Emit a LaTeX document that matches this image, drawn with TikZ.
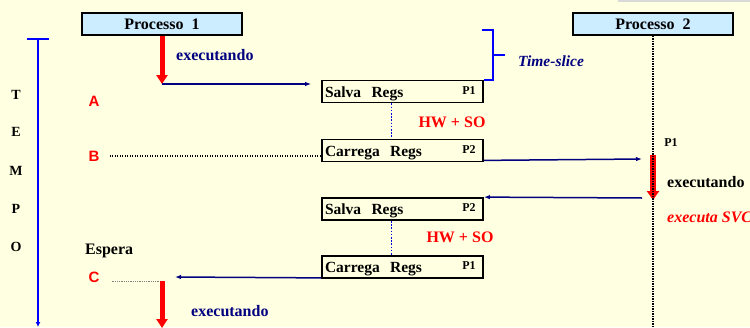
\documentclass[tikz,border=0pt]{standalone}
\usepackage{fontspec}
\setmainfont{Liberation Serif}
\newfontfamily\sansbold{Liberation Sans}
\usetikzlibrary{arrows.meta}
\definecolor{paper}{HTML}{FFFFE1}
\definecolor{procblue}{HTML}{CCECFF}
\definecolor{navy}{HTML}{000080}
\definecolor{stripgray}{HTML}{D9D9D9}

\begin{document}
\begin{tikzpicture}[x=1pt,y=-1pt,proc/.style={draw,line width=1.8pt,fill=procblue,minimum width=160pt,minimum height=22pt,inner sep=0pt,font=\fontsize{16}{18}\selectfont\bfseries},regbox/.style={draw,line width=1.8pt,minimum width=161pt,minimum height=22pt,text width=155pt,text height=11pt,text depth=0pt,align=left,inner sep=2pt,font=\fontsize{15.5}{17}\selectfont\bfseries},tag/.style={font=\fontsize{12}{13}\selectfont\bfseries,inner sep=0pt},tempo/.style={font=\fontsize{14}{16}\selectfont\bfseries,inner sep=0pt},point/.style={red,font=\fontsize{15}{16}\sansbold\bfseries,inner sep=0pt},note/.style={font=\fontsize{16}{18}\selectfont\bfseries,inner sep=0pt,anchor=west},alert/.style={red,font=\fontsize{16}{18}\selectfont\bfseries,inner sep=0pt},flow/.style={navy,line width=1.5pt,-{Latex[length=6pt,width=4.5pt]}},run/.style={red,line width=5pt,-{Triangle[length=9pt,width=11pt]}},life/.style={black,line width=1.3pt,dash pattern=on 1.3pt off 1.2pt},wait/.style={black,line width=1.3pt,dash pattern=on 1.3pt off 1.2pt},link/.style={blue!70!navy,line width=1.6pt,dash pattern=on 1.6pt off 1.6pt},slice/.style={blue,line width=2.2pt},axis/.style={blue,line width=1.8pt}]
\fill[paper] (0,0) rectangle (750,327);
\useasboundingbox (0,0) rectangle (750,327);
\fill[stripgray] (618,0) rectangle (750,2);
\coordinate (ttop) at (38,39);
\coordinate (tend) at (38,327);
\coordinate (run1) at (162,84);
\coordinate (run2) at (653,155);
\coordinate (run2end) at (653,200);
\coordinate (in2) at (642,159);
\coordinate (out2) at (642,198);
\coordinate (retC) at (175,277);
\coordinate (run3) at (162,281);
\coordinate (run3end) at (162,328);
\coordinate (p2end) at (653,327);
\coordinate (slicetop) at (482,30);
\coordinate (slicemid) at (493,55);
% processos
\node[proc] (p1) at (162,24) {Processo~~1};
\node[proc] (p2) at (653,24) {Processo~~2};
% registos
\node[regbox] (s1) at (402.5,91.5) {Salva~~Regs};
\node[regbox] (c2) at (402.5,150.5) {Carrega~~Regs};
\node[regbox] (s2) at (402.5,209) {Salva~~Regs};
\node[regbox] (c1) at (402.5,267) {Carrega~~Regs};
\node[tag,anchor=east] (s1p) at ([xshift=-8pt,yshift=1pt]s1.east) {P1};
\node[tag,anchor=east] (c2p) at ([xshift=-8pt,yshift=1pt]c2.east) {P2};
\node[tag,anchor=east] (s2p) at ([xshift=-8pt,yshift=1pt]s2.east) {P2};
\node[tag,anchor=east] (c1p) at ([xshift=-8pt,yshift=1pt]c1.east) {P1};
% eixo do tempo
\draw[axis,-{Latex[length=5pt,width=5pt]}] (ttop) -- (tend);
\draw[axis,line width=2.6pt] ([xshift=-11pt]ttop) -- ([xshift=11pt]ttop);
\node[tempo] (tT) at (16,95) {T};
\node[tempo] (tE) at (16,132) {E};
\node[tempo] (tM) at (16,171) {M};
\node[tempo] (tP) at (16,209) {P};
\node[tempo] (tO) at (16,247) {O};
\node[point] (A) at (94,101) {A};
\node[point] (B) at (94,156) {B};
\node[point] (C) at (94,277) {C};
\node[note] (esp) at (85,251) {Espera};
% processo 1
\draw[run] (p1.south) -- (run1);
\node[note,navy] (ex1) at (176,55) {executando};
\draw[flow] (run1) -- ([xshift=-10pt]s1.west |- run1);
\draw[wait] ([xshift=10pt]B.east) -- (B -| c2.west);
\draw[link] ([xshift=-11pt]s1.south) -- ([xshift=-11pt]c2.north);
\node[alert] (hw1) at (452,122) {HW + SO};
% time-slice
\draw[slice] (slicetop) -- ++(11,0) |- (s1.north east);
\draw[slice] (slicemid) -- ++(12,0);
\node[note,navy,font=\fontsize{15.5}{17}\selectfont\bfseries\itshape] (ts) at (518,61) {Time-slice};
% processo 2
\draw[flow] ([yshift=2pt]c2.south east) -- (in2);
\draw[run,line width=6.5pt,-{Triangle[length=9pt,width=12pt]}] (run2) -- (run2end);
\draw[life] (p2.south) -- (p2end);
\node[tag] (p2t) at (671,143) {P1};
\node[note] (ex2) at (667,182) {executando};
\node[note,red,font=\fontsize{16}{18}\selectfont\bfseries\itshape] (svc) at (667,217) {executa SVC};
\draw[flow] (out2) -- (s2.north east);
\draw[link] ([xshift=-11pt]s2.south) -- ([xshift=-11pt]c1.north);
\node[alert] (hw2) at (460,237) {HW + SO};
% volta ao processo 1
\draw[flow] ([yshift=1pt]c1.south west) -- (retC);
\draw[gray,line width=0.8pt,dash pattern=on 1pt off 0.8pt] ([xshift=12pt]C.east |- run3) -- (run3);
\draw[run] (run3) -- (run3end);
\node[note,navy] (ex3) at (191,311) {executando};
\end{tikzpicture}
\end{document}
